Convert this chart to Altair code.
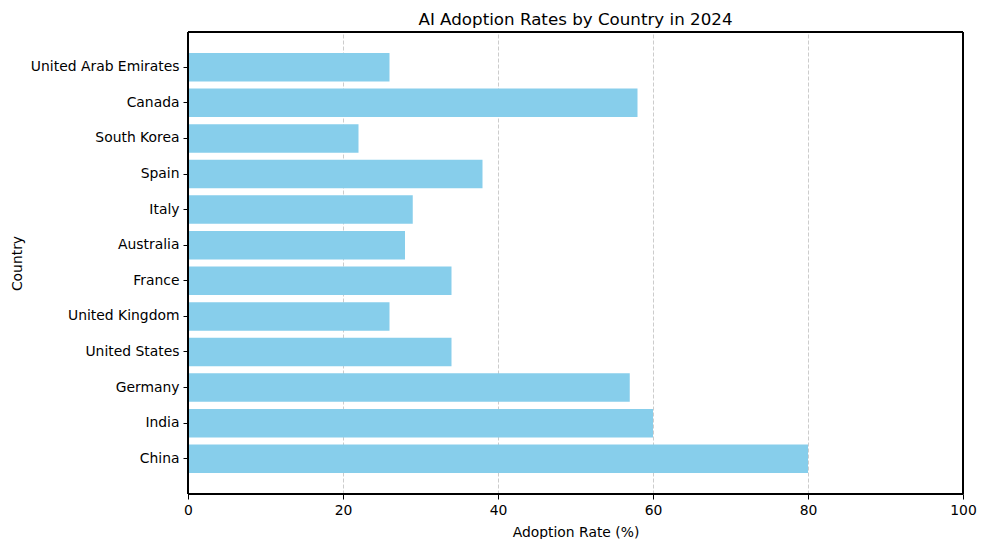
import altair as alt
import pandas as pd

countries = ["China", "India", "Germany", "United States", "United Kingdom", "France",
             "Australia", "Italy", "Spain", "South Korea", "Canada", "United Arab Emirates"]
rates = [80, 60, 57, 34, 26, 34, 28, 29, 38, 22, 58, 26]
x_ticks = [0, 20, 40, 60, 80, 100]

df = pd.DataFrame({"Country": countries, "Rate": rates})

FONT = "DejaVu Sans"
W, H = 775, 462

bars = alt.Chart(df).mark_bar(color="#87CEEB").encode(
    x=alt.X("Rate:Q",
            scale=alt.Scale(domain=[0, 100], nice=False, zero=True),
            axis=alt.Axis(title="Adoption Rate (%)", values=x_ticks, format="d",
                          grid=True, gridDash=[4, 2], gridColor="#bfbfbf", gridWidth=0.8,
                          tickColor="black", tickSize=5, labelPadding=4, labelFlush=False,
                          domainColor="black", titlePadding=9)),
    y=alt.Y("Country:N", sort=list(reversed(countries)),
            scale=alt.Scale(paddingInner=0.2, paddingOuter=0.59),
            axis=alt.Axis(title="Country", grid=False, tickColor="black", tickSize=5,
                          labelPadding=4, domainColor="black", titlePadding=6)),
)

frame = alt.Chart(df).mark_rect(fill=None, stroke="black", strokeWidth=1).encode(
    x=alt.value(0), x2=alt.value(W), y=alt.value(0), y2=alt.value(H)
)

chart = alt.layer(bars, frame).properties(
    width=W,
    height=H,
    title=alt.TitleParams("AI Adoption Rates by Country in 2024", fontSize=16.7,
                          font=FONT, fontWeight="normal", color="black", offset=3),
    autosize=alt.AutoSizeParams(type="none"),
    padding={"left": 180, "top": 24, "right": 15, "bottom": 45},
).configure_axis(
    labelFont=FONT, titleFont=FONT, labelFontSize=13.9, titleFontSize=13.9,
    labelColor="black", titleColor="black", titleFontWeight="normal",
).configure_view(
    stroke=None
)

chart.save("out.html", embed_options={"renderer": "svg", "actions": False})
